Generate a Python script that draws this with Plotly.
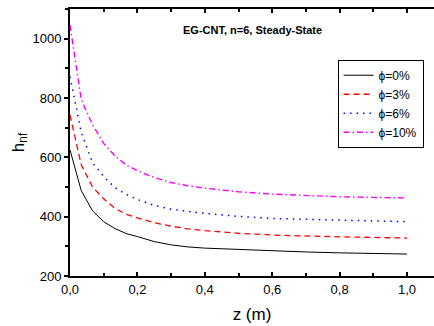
import plotly.graph_objects as go

z = [0.0, 0.0333, 0.0667, 0.1, 0.1333, 0.1667, 0.2, 0.25, 0.3, 0.35, 0.4, 0.5, 0.6, 0.7, 0.8, 0.9, 1.0]
h_0 = [625, 488, 420, 383, 360, 343, 333, 316, 305, 298, 294, 289, 285, 281, 278, 276, 274]
h_3 = [743, 575, 500, 460, 428, 408, 396, 380, 368, 359, 353, 344, 338, 334, 332, 330, 328]
h_6 = [872, 685, 582, 535, 498, 475, 458, 438, 425, 417, 411, 401, 394, 391, 389, 386, 383]
h_10 = [1046, 795, 710, 647, 605, 574, 555, 532, 515, 504, 496, 484, 476, 471, 467, 465, 463]

series = [
    ("ϕ=0%", h_0, "black", "solid", 1.0),
    ("ϕ=3%", h_3, "red", "6px,4px", 1.3),
    ("ϕ=6%", h_6, "blue", "1.5px,5px", 1.5),
    ("ϕ=10%", h_10, "magenta", "6px,3px,1.5px,3px", 1.4),
]

xticks = [0.0, 0.2, 0.4, 0.6, 0.8, 1.0]
xticktext = ["0,0", "0,2", "0,4", "0,6", "0,8", "1,0"]
yticks = [200, 400, 600, 800, 1000]

fig = go.Figure()
for name, y, color, dash, w in series:
    fig.add_trace(go.Scatter(x=z, y=y, name=name, mode="lines",
                             line=dict(color=color, dash=dash, width=w)))

font = "Arial, Liberation Sans, sans-serif"
fig.update_layout(
    width=434, height=326,
    margin=dict(l=70, r=0, t=9, b=50),
    plot_bgcolor="white", paper_bgcolor="white",
    font=dict(family=font, size=13, color="black"),
    showlegend=True,
    legend=dict(x=0.735, y=0.81, xanchor="left", yanchor="top",
                bordercolor="black", borderwidth=1, bgcolor="white",
                font=dict(size=12), tracegroupgap=0, itemwidth=30),
    xaxis=dict(range=[0, 1.08], tickvals=xticks, ticktext=xticktext,
               showgrid=False, zeroline=False, showline=True, linecolor="black",
               linewidth=2, mirror="allticks", ticks="inside", ticklen=4,
               tickcolor="black", tickwidth=1.5,
               minor=dict(dtick=0.1, tick0=0, ticks="inside", ticklen=3, tickcolor="black"),
               title=dict(text="z (m)", font=dict(size=17), standoff=13)),
    yaxis=dict(range=[200, 1100], tickvals=yticks,
               showgrid=False, zeroline=False, showline=True, linecolor="black",
               linewidth=2, ticks="outside", ticklen=4, tickcolor="black", tickwidth=1.5,
               minor=dict(dtick=100, tick0=200, ticks="outside", ticklen=3, tickcolor="black"),
               title=dict(text="h<sub>nf</sub>", font=dict(size=17), standoff=4)),
    annotations=[dict(text="<b>EG-CNT, n=6, Steady-State</b>", x=0.5, y=0.92,
                      xref="paper", yref="paper", showarrow=False,
                      font=dict(size=11, family=font), xanchor="center", yanchor="middle")],
)

fig.write_html("out.html")
